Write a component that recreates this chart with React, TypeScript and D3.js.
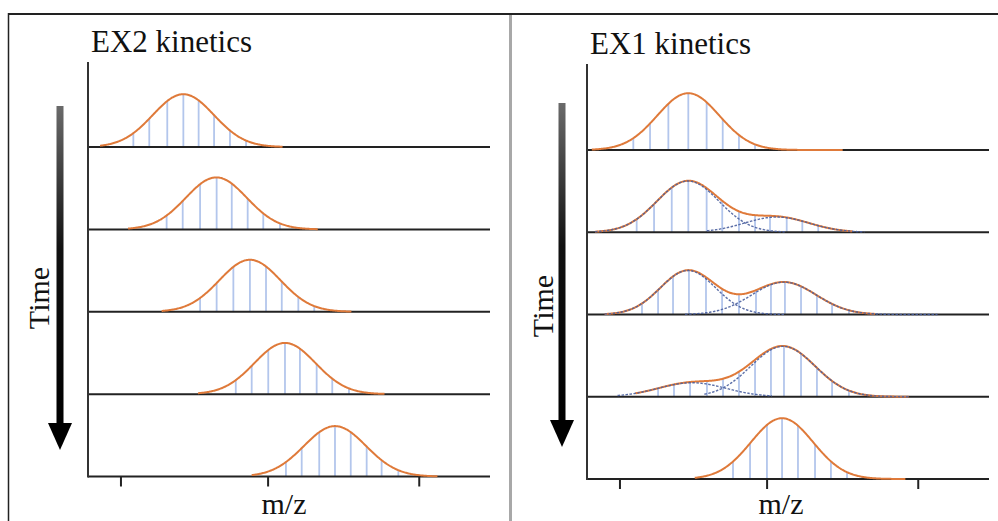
import React from 'react';
import * as d3 from 'd3';

type Peak = { center: number; width: number; height: number; from: number; to: number };

const W = 998;
const H = 521;

// Row order follows time (top = earliest)
const timePoints = [0, 1, 2, 3, 4];
// Unlabelled m/z ticks
const massTicks = [2.05, 11.2, 20.6];

// EX2 kinetics: a single population shifting in mass over time
const ex2Peaks: Peak[] = [
  { center: 5.93, width: 1.9, height: 0.66, from: 0.75, to: 12.1 },
  { center: 7.98, width: 1.9, height: 0.65, from: 2.49, to: 14.3 },
  { center: 10.07, width: 1.9, height: 0.65, from: 4.58, to: 16.4 },
  { center: 12.25, width: 1.9, height: 0.64, from: 6.84, to: 18.47 },
  { center: 15.36, width: 1.93, height: 0.63, from: 10.18, to: 21.77 },
];
const ex2Sticks: number[][] = [
  [2.82, 3.81, 4.93, 5.93, 6.88, 7.84, 8.83, 9.83, 10.8],
  [4.89, 5.89, 6.97, 8.0, 8.94, 9.93, 10.9, 11.94, 12.94],
  [6.97, 8.0, 9.04, 10.07, 11.07, 12.05, 13.08, 14.07, 15.05],
  [9.19, 10.18, 11.21, 12.25, 13.18, 14.22, 15.19, 16.23, 17.23],
  [12.31, 13.29, 14.38, 15.36, 16.34, 17.33, 18.26, 19.3, 20.34],
];

// EX1 kinetics: two populations exchanging over time
const ex1Peaks: Peak[][] = [
  [{ center: 6.3, width: 1.93, height: 0.71, from: 0.3, to: 15.9 }],
  [
    { center: 6.28, width: 1.93, height: 0.64, from: 0.5, to: 12.3 },
    { center: 11.8, width: 2.0, height: 0.19, from: 7.46, to: 17.3 },
  ],
  [
    { center: 6.28, width: 1.72, height: 0.55, from: 1.1, to: 12.3 },
    { center: 12.25, width: 2.0, height: 0.405, from: 6.1, to: 21.8 },
  ],
  [
    { center: 6.53, width: 2.1, height: 0.175, from: 1.9, to: 11.5 },
    { center: 12.19, width: 2.0, height: 0.63, from: 7.3, to: 20.0 },
  ],
  [{ center: 12.13, width: 1.93, height: 0.76, from: 6.7, to: 19.8 }],
];
const ex1EnvelopeSpans: [number, number][] = [
  [0.3, 15.9],
  [0.5, 16.5],
  [1.1, 17.9],
  [3.0, 20.0],
  [6.7, 19.8],
];
const ex1Sticks: number[][] = [
  [2.88, 3.92, 5.06, 6.3, 7.44, 8.44, 9.45, 10.45],
  [3.09, 4.17, 5.27, 6.3, 7.44, 8.41, 9.45, 10.45, 11.38, 12.42, 13.39, 14.38],
  [3.42, 4.42, 5.35, 6.34, 7.4, 8.4, 9.45, 10.51, 11.44, 12.31, 13.31, 14.3, 15.24, 16.29],
  [4.42, 5.41, 6.41, 7.46, 8.46, 9.45, 10.45, 11.44, 12.25, 13.31, 14.3, 15.24, 16.29, 17.29],
  [9.08, 10.14, 11.19, 12.13, 13.12, 14.18, 15.17, 16.17, 17.1],
];

const SERIF = "'Liberation Serif', 'Times New Roman', serif";
const ORANGE = '#df7a3a';
const STICK = '#b3c6ec';
const FIT = '#4a5f9e';

const gauss = (p: Peak, x: number) => p.height * Math.exp(-0.5 * ((x - p.center) / p.width) ** 2);
const envelope = (peaks: Peak[], x: number) => d3.sum(peaks, (p) => gauss(p, x));

type PanelProps = {
  left: number;
  title: string;
  titleY: number;
  axisTop: number;
  firstBase: number;
  lastBase: number;
  rows: Peak[][];
  spans: [number, number][];
  sticks: number[][];
  timeX: number;
  timeY: number;
  arrowX: number;
  arrowTop: number;
  arrowTip: number;
  massLabelX: number;
};

function Panel(props: PanelProps) {
  const { left, rows, spans, sticks } = props;
  const x = d3.scaleLinear().domain([0, 25]).range([left, left + 402]);
  const base = d3.scalePoint<number>().domain(timePoints).range([props.firstBase, props.lastBase]);
  const axisEnd = x.range()[1];
  const headH = 27;
  const headW = 12;

  return (
    <g>
      <text x={left + 3} y={props.titleY} fontFamily={SERIF} fontSize={31} fill="#111">
        {props.title}
      </text>

      {/* time arrow */}
      <rect
        x={props.arrowX - 3.5}
        y={props.arrowTop}
        width={7}
        height={props.arrowTip - headH - props.arrowTop + 1}
        fill="url(#arrowShade)"
      />
      <path
        d={`M${props.arrowX - headW},${props.arrowTip - headH} L${props.arrowX + headW},${props.arrowTip - headH} L${props.arrowX},${props.arrowTip} Z`}
        fill="#000"
      />
      <text
        transform={`translate(${props.timeX},${props.timeY}) rotate(-90)`}
        textAnchor="middle"
        fontFamily={SERIF}
        fontSize={30}
        fill="#111"
      >
        Time
      </text>

      {timePoints.map((t) => {
        const y0 = base(t)!;
        const y = d3.scaleLinear().domain([0, 1]).range([y0, y0 - 80]);
        const peaks = rows[t];
        const [from, to] = spans[t];
        const sum = d3
          .line<number>()
          .x((m) => x(m))
          .y((m) => y(envelope(peaks, m)))
          .curve(d3.curveBasis);
        const part = (p: Peak) =>
          d3
            .line<number>()
            .x((m) => x(m))
            .y((m) => y(gauss(p, m)))(d3.range(p.from, p.to + 0.001, 0.05));
        return (
          <g key={t}>
            {sticks[t].map((m, i) => (
              <line
                key={i}
                x1={x(m)}
                x2={x(m)}
                y1={y0}
                y2={y(envelope(peaks, m))}
                stroke={STICK}
                strokeWidth={1.8}
              />
            ))}
            <line x1={left} x2={axisEnd} y1={y0} y2={y0} stroke="#222" strokeWidth={2} />
            <path d={sum(d3.range(from, to + 0.001, 0.05)) ?? ''} fill="none" stroke={ORANGE} strokeWidth={2} />
            {peaks.length > 1 &&
              peaks.map((p, i) => (
                <path
                  key={i}
                  d={part(p) ?? ''}
                  fill="none"
                  stroke={FIT}
                  strokeWidth={1.4}
                  strokeDasharray="2.5,1.5"
                  opacity={0.9}
                />
              ))}
          </g>
        );
      })}

      {/* axes */}
      <line x1={left} x2={left} y1={props.axisTop} y2={props.lastBase + 1} stroke="#333" strokeWidth={2} />
      {massTicks.map((m) => (
        <line
          key={m}
          x1={x(m)}
          x2={x(m)}
          y1={props.lastBase}
          y2={props.lastBase + 10}
          stroke="#222"
          strokeWidth={2}
        />
      ))}
      <text x={props.massLabelX} y={514} textAnchor="middle" fontFamily={SERIF} fontSize={30} fill="#111">
        m/z
      </text>
    </g>
  );
}

export default function App() {
  return (
    <svg width={W} height={H} style={{ position: 'absolute', left: 0, top: 0, background: '#fff' }}>
      <defs>
        <linearGradient id="arrowShade" x1="0" y1="0" x2="0" y2="1">
          <stop offset="0" stopColor="#6a6a6a" />
          <stop offset="0.45" stopColor="#111" />
          <stop offset="1" stopColor="#000" />
        </linearGradient>
      </defs>
      <rect x={0} y={0} width={W} height={H} fill="#fff" />

      {/* frame */}
      <line x1={8} x2={W} y1={14} y2={14} stroke="#222" strokeWidth={2} />
      <line x1={8.5} x2={8.5} y1={13} y2={H} stroke="#222" strokeWidth={1.5} />
      <line x1={510.5} x2={510.5} y1={15} y2={H} stroke="#a8a8a8" strokeWidth={3} />

      <Panel
        left={88}
        title="EX2 kinetics"
        titleY={52}
        axisTop={62}
        firstBase={147}
        lastBase={476.5}
        rows={ex2Peaks.map((p) => [p])}
        spans={ex2Peaks.map((p) => [p.from, p.to] as [number, number])}
        sticks={ex2Sticks}
        timeX={49}
        timeY={298}
        arrowX={60}
        arrowTop={106}
        arrowTip={450}
        massLabelX={284}
      />
      <Panel
        left={587}
        title="EX1 kinetics"
        titleY={54}
        axisTop={64}
        firstBase={150}
        lastBase={479}
        rows={ex1Peaks}
        spans={ex1EnvelopeSpans}
        sticks={ex1Sticks}
        timeX={553}
        timeY={306}
        arrowX={562}
        arrowTop={103}
        arrowTip={447}
        massLabelX={781}
      />
    </svg>
  );
}
